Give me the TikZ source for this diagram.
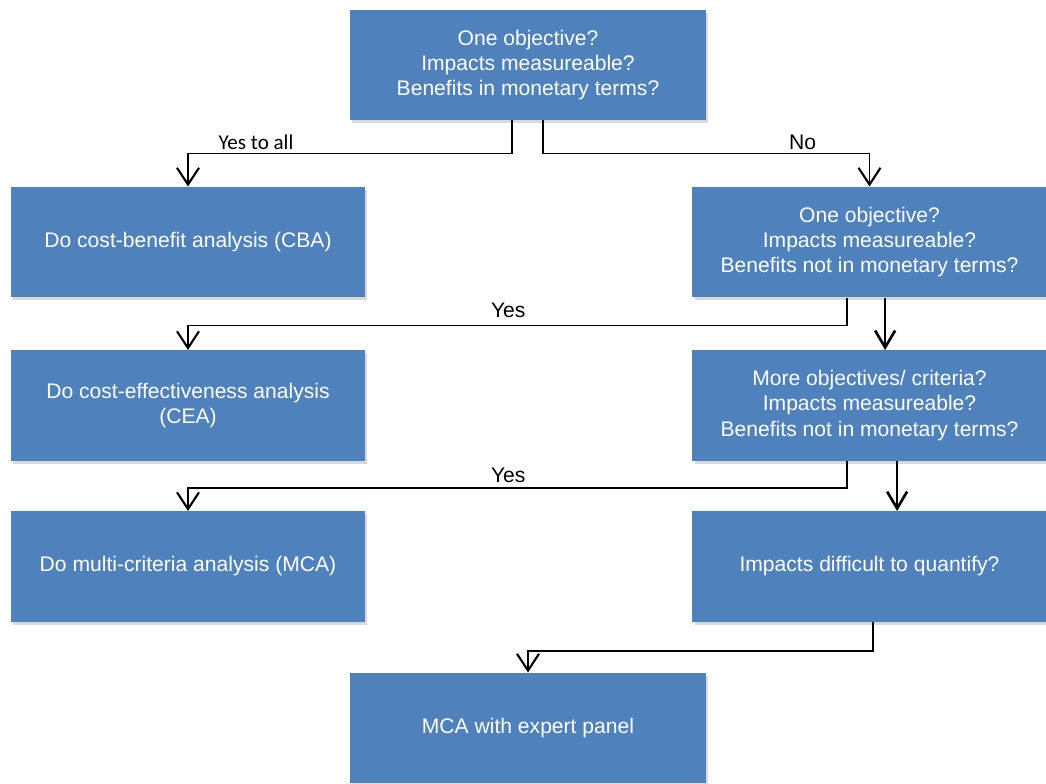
\documentclass[tikz,border=0pt]{standalone}
\usepackage{fontspec}
\setmainfont{Liberation Sans}
\newfontfamily\calfont{Carlito}
\usetikzlibrary{arrows.meta,shadows}
\definecolor{boxblue}{RGB}{79,129,189}

\begin{document}
\begin{tikzpicture}[x=0.025cm,y=-0.025cm,
  box/.style={fill=boxblue,text=white,align=center,inner sep=0pt,
    minimum width=8.85cm,minimum height=2.76cm,
    font=\fontsize{15}{18}\selectfont,
    drop shadow={shadow xshift=1.5pt,shadow yshift=-2pt,opacity=0.3}},
  link/.style={line width=1.1pt,-{Straight Barb[length=0.42cm,width=0.55cm,line width=1.5pt]}},
  bold/.style={line width=1.9pt,-{Straight Barb[length=0.42cm,width=0.5cm]}},
  lbl/.style={font=\fontsize{15}{18}\selectfont,inner sep=2pt}]
\useasboundingbox (0,0) rectangle (1046,783);
% boxes
\node[box,minimum width=8.9cm] (top) at (528,65) {One objective?\\Impacts measureable?\\Benefits in monetary terms?};
\node[box] (cba) at (188,242) {Do cost-benefit analysis (CBA)};
\node[box] (cea) at (188,405.5) {Do cost-effectiveness analysis\\(CEA)};
\node[box] (mca) at (188,566.5) {Do multi-criteria analysis (MCA)};
\node[box] (one) at (869.5,242) {One objective?\\Impacts measureable?\\Benefits not in monetary terms?};
\node[box] (more) at (869.5,405.5) {More objectives/ criteria?\\Impacts measureable?\\Benefits not in monetary terms?};
\node[box] (hard) at (869.5,566.5) {Impacts difficult to quantify?};
\node[box,minimum width=8.9cm] (panel) at (528,728) {MCA with expert panel};
% connectors
\draw[link] ([xshift=-0.4cm]top.south) -- ++(0,33)
  -| node[lbl,pos=0.395,above,font=\calfont\fontsize{15}{18}\selectfont] {Yes to all} (cba.north);
\draw[link] ([xshift=0.375cm]top.south) -- ++(0,33)
  -| node[lbl,pos=0.3975,above] {No} (one.north);
\draw[link] ([xshift=-0.5625cm]one.south) -- ++(0,28)
  -| node[lbl,pos=0.257,above=3pt] {Yes} (cea.north);
\draw[link] ([xshift=-0.5625cm]more.south) -- ++(0,27)
  -| node[lbl,pos=0.257,above=1pt] {Yes} (mca.north);
\draw[link] ([xshift=0.09cm]hard.south) -- ++(0,29) -| (panel.north);
\draw[bold] ([xshift=0.39cm]one.south) -- ([xshift=0.39cm]more.north);
\draw[bold] ([xshift=0.69cm]more.south) -- ([xshift=0.69cm]hard.north);
\end{tikzpicture}
\end{document}
